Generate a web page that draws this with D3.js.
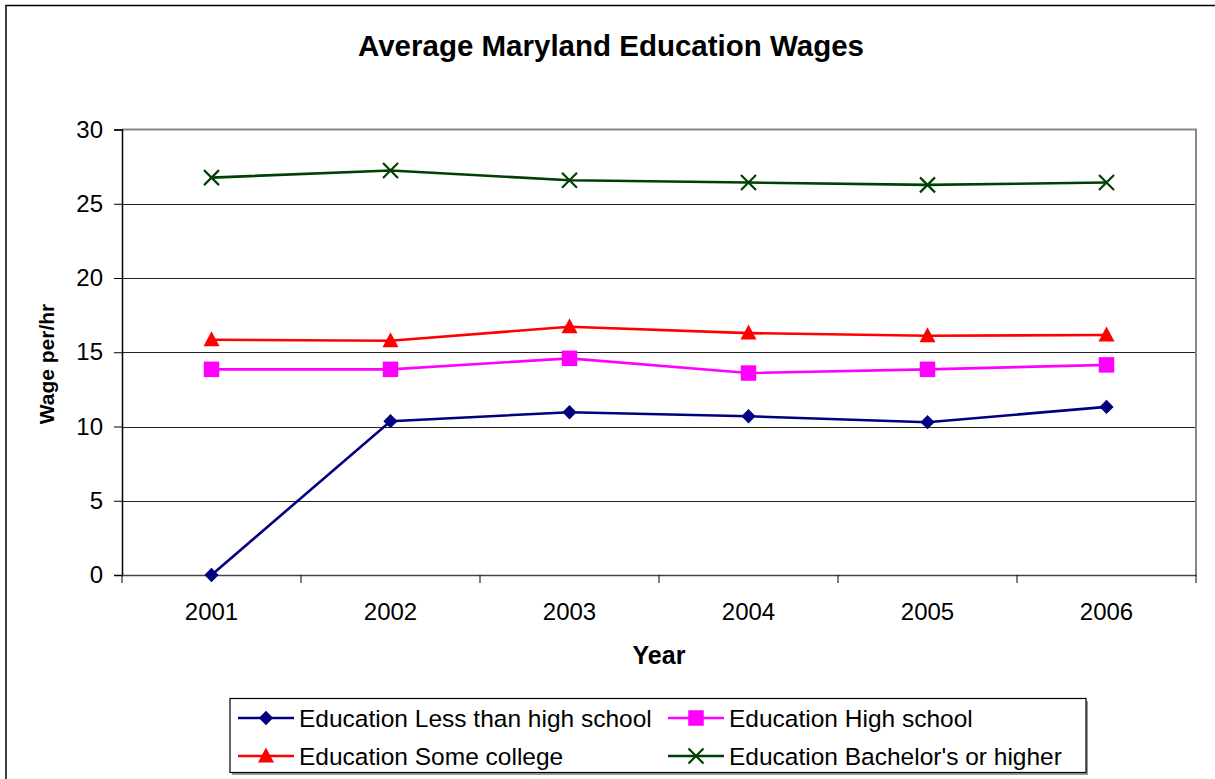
<!DOCTYPE html>
<html>
<head>
<meta charset="utf-8">
<script src="https://cdn.jsdelivr.net/npm/d3@7"></script>
<style>
  body { margin: 0; background: #fff; }
  svg { display: block; font-family: "Liberation Sans", Arial, sans-serif; }
</style>
</head>
<body>
<svg id="chart" width="1215" height="779"></svg>
<script>
const years = ['2001', '2002', '2003', '2004', '2005', '2006'];
const lessThanHS = [0, 10.36, 10.96, 10.69, 10.29, 11.32];
const highSchool = [13.85, 13.85, 14.59, 13.6, 13.85, 14.15];
const someCollege = [15.84, 15.77, 16.72, 16.29, 16.11, 16.16];
const bachelors = [26.76, 27.24, 26.58, 26.43, 26.27, 26.43];
const yTicks = [0, 5, 10, 15, 20, 25, 30];

const series = [
    {name: 'Education Less than high school', values: lessThanHS, color: '#000080', marker: 'diamond'},
    {name: 'Education High school', values: highSchool, color: '#ff00ff', marker: 'square'},
    {name: 'Education Some college', values: someCollege, color: '#ff0000', marker: 'triangle'},
    {name: "Education Bachelor's or higher", values: bachelors, color: '#004000', marker: 'cross'}
];

const svg = d3.select('#chart');
const plot = {left: 122, right: 1196, top: 129.5, bottom: 575};

// outer frame
svg.append('rect')
    .attr('x', 6).attr('y', 5.5)
    .attr('width', 1220).attr('height', 800)
    .attr('fill', '#fff')
    .attr('stroke', '#000').attr('stroke-width', 1.5);

svg.append('text')
    .attr('x', 611).attr('y', 56)
    .attr('text-anchor', 'middle')
    .attr('font-size', 29.5).attr('font-weight', 'bold')
    .text('Average Maryland Education Wages');

const x = d3.scaleBand().domain(years).range([plot.left, plot.right]).padding(0);
const y = d3.scaleLinear().domain([0, 30]).range([plot.bottom, plot.top]);

// gridlines
svg.append('g')
    .selectAll('line')
    .data(yTicks.filter(t => t > 0 && t < 30))
    .join('line')
    .attr('x1', plot.left).attr('x2', plot.right)
    .attr('y1', d => Math.round(y(d)) + 0.5).attr('y2', d => Math.round(y(d)) + 0.5)
    .attr('stroke', '#222').attr('stroke-width', 1);

// plot frame (top and right gray)
svg.append('path')
    .attr('d', `M${plot.left},${plot.top}H${plot.right}V${plot.bottom}`)
    .attr('fill', 'none')
    .attr('stroke', '#888').attr('stroke-width', 2);

// y axis
const yAxis = svg.append('g')
    .attr('transform', `translate(${plot.left},0)`)
    .call(d3.axisLeft(y).tickValues(yTicks).tickSize(8).tickPadding(11));
yAxis.select('.domain').attr('stroke', '#000').attr('stroke-width', 1.5);
yAxis.selectAll('.tick line').attr('stroke', '#000');
yAxis.selectAll('.tick text').attr('font-size', 24).attr('fill', '#000').attr('font-family', null);

// x axis
const xAxis = svg.append('g')
    .attr('transform', `translate(0,${plot.bottom})`)
    .call(d3.axisBottom(x).tickSize(0).tickPadding(28));
xAxis.select('.domain').attr('stroke', '#444').attr('stroke-width', 1.5);
xAxis.selectAll('.tick text').attr('font-size', 24).attr('fill', '#000').attr('font-family', null);
xAxis.selectAll('.sep')
    .data(years.concat(['end']))
    .join('line')
    .attr('class', 'sep')
    .attr('x1', (d, i) => plot.left + i * x.step()).attr('x2', (d, i) => plot.left + i * x.step())
    .attr('y1', 0).attr('y2', 8)
    .attr('stroke', '#000');

svg.append('text')
    .attr('x', 659).attr('y', 664)
    .attr('text-anchor', 'middle')
    .attr('font-size', 25).attr('font-weight', 'bold')
    .text('Year');

svg.append('text')
    .attr('transform', 'translate(54,364) rotate(-90)')
    .attr('text-anchor', 'middle')
    .attr('font-size', 21).attr('font-weight', 'bold')
    .text('Wage per/hr');

// markers
const markerPath = {
    diamond: d3.symbol(d3.symbolDiamond2, 130)(),
    square: d3.symbol(d3.symbolSquare, 240)(),
    triangle: 'M0,-8.5L8,6.5H-8Z',
    cross: 'M-7.5,-7.5L7.5,7.5M-7.5,7.5L7.5,-7.5'
};
function drawMarker(g, s) {
    g.append('path')
        .attr('d', markerPath[s.marker])
        .attr('fill', s.marker === 'cross' ? 'none' : s.color)
        .attr('stroke', s.color)
        .attr('stroke-width', s.marker === 'cross' ? 2.2 : 0);
}

const line = d3.line()
    .x((d, i) => x(years[i]) + x.bandwidth() / 2)
    .y(d => y(d));

series.forEach(s => {
    svg.append('path')
        .datum(s.values)
        .attr('d', line)
        .attr('fill', 'none')
        .attr('stroke', s.color).attr('stroke-width', 2.6);
    s.values.forEach((v, i) => {
        const g = svg.append('g')
            .attr('transform', `translate(${x(years[i]) + x.bandwidth() / 2},${y(v)})`);
        drawMarker(g, s);
    });
});

// legend
const legend = svg.append('g');
legend.append('rect')
    .attr('x', 232).attr('y', 701).attr('width', 856).attr('height', 74)
    .attr('fill', '#999');
legend.append('rect')
    .attr('x', 230).attr('y', 698.5).attr('width', 856).attr('height', 74)
    .attr('fill', '#fff').attr('stroke', '#000').attr('stroke-width', 1.2);

const legendPos = [[238, 718], [668, 718], [238, 756], [668, 756]];
series.forEach((s, i) => {
    const [lx, ly] = legendPos[i];
    const g = legend.append('g').attr('transform', `translate(${lx},${ly})`);
    g.append('line')
        .attr('x1', 0).attr('x2', 56)
        .attr('stroke', s.color).attr('stroke-width', 2.6);
    drawMarker(g.append('g').attr('transform', 'translate(28,0)'), s);
    g.append('text')
        .attr('x', 61).attr('y', 8.5)
        .attr('font-size', 24.5)
        .text(s.name);
});
</script>
</body>
</html>
